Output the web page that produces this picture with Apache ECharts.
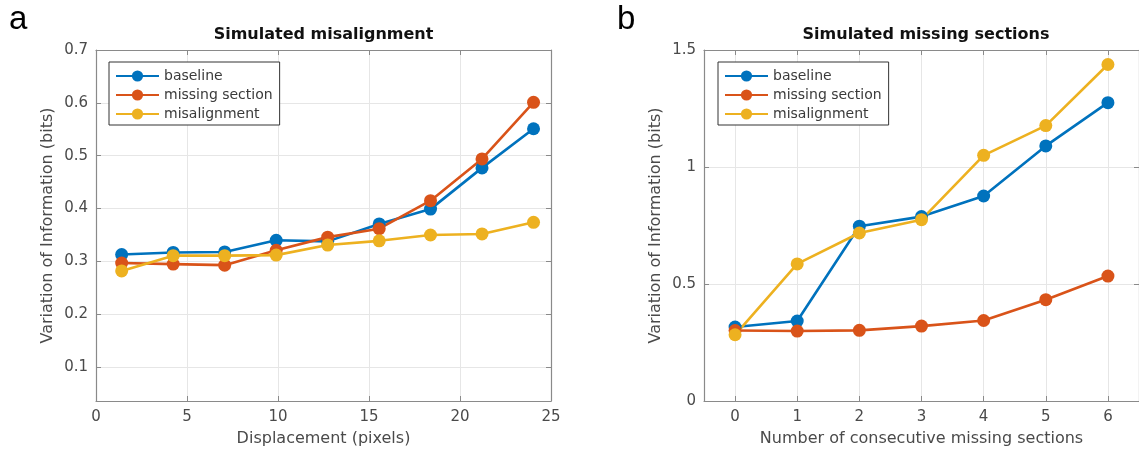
<!DOCTYPE html>
<html>
<head>
<meta charset="utf-8">
<script src="https://cdn.jsdelivr.net/npm/echarts@6/dist/echarts.min.js"></script>
<style>
html,body{margin:0;padding:0;background:#fff;}
#chart{width:1139px;height:452px;}
</style>
</head>
<body>
<div id="chart"></div>
<script>
// ---- data ----
const seriesNames = ['baseline', 'missing section', 'misalignment'];
const seriesColors = ['#0072BD', '#D95319', '#EDB120'];

// panel a: Simulated misalignment
const dispX = [1.41, 4.24, 7.07, 9.90, 12.73, 15.56, 18.38, 21.21, 24.04];
const aBaseline = [0.313, 0.317, 0.318, 0.340, 0.338, 0.371, 0.399, 0.477, 0.551];
const aMissing = [0.297, 0.295, 0.293, 0.321, 0.346, 0.362, 0.415, 0.494, 0.601];
const aMisalign = [0.282, 0.311, 0.311, 0.312, 0.331, 0.339, 0.350, 0.352, 0.374];
const aXTicks = [0, 5, 10, 15, 20, 25];
const aYTicks = [0.1, 0.2, 0.3, 0.4, 0.5, 0.6, 0.7];

// panel b: Simulated missing sections
const secX = [0, 1, 2, 3, 4, 5, 6];
const bBaseline = [0.316, 0.342, 0.747, 0.788, 0.876, 1.090, 1.275];
const bMissing = [0.301, 0.299, 0.302, 0.320, 0.344, 0.433, 0.534];
const bMisalign = [0.283, 0.586, 0.718, 0.775, 1.050, 1.177, 1.438];
const bXTicks = [0, 1, 2, 3, 4, 5, 6];
const bYTicks = [0, 0.5, 1, 1.5];

// ---- styling ----
const FONT = 'DejaVu Sans';
const frameColor = '#8a8a8a';
const gridColor = '#e6e6e6';
const labelColor = '#4a4a4a';

function zip(xs, ys) { return xs.map((x, i) => [x, ys[i]]); }

function axisBase(gridIndex, min, max, ticks, position) {
  return {
    type: 'value', gridIndex, min, max, position,
    axisLine: { show: true, onZero: false, lineStyle: { color: frameColor, width: 1.2 } },
    axisTick: { show: true, inside: true, length: 5, customValues: ticks, lineStyle: { color: frameColor } },
    axisLabel: { show: false, customValues: ticks },
    splitLine: { show: false }
  };
}
function mainX(gridIndex, min, max, ticks, name) {
  const a = axisBase(gridIndex, min, max, ticks, 'bottom');
  Object.assign(a, {
    name, nameLocation: 'middle', nameGap: 30,
    nameTextStyle: { fontFamily: FONT, fontSize: 16, color: labelColor },
    axisLabel: { show: true, customValues: ticks, margin: 9, fontFamily: FONT, fontSize: 15, color: labelColor },
    splitLine: { show: true, lineStyle: { color: gridColor, width: 1 } }
  });
  return a;
}
function mainY(gridIndex, min, max, ticks, name) {
  const a = axisBase(gridIndex, min, max, ticks, 'left');
  Object.assign(a, {
    name, nameLocation: 'middle', nameGap: 40,
    nameTextStyle: { fontFamily: FONT, fontSize: 16, color: labelColor },
    axisLabel: { show: true, customValues: ticks, margin: 8, fontFamily: FONT, fontSize: 15, color: labelColor },
    splitLine: { show: true, lineStyle: { color: gridColor, width: 1 } }
  });
  return a;
}
function lineSeries(name, color, xi, yi, data) {
  return {
    type: 'line', name, xAxisIndex: xi, yAxisIndex: yi, data,
    symbol: 'circle', symbolSize: 13, showSymbol: true,
    lineStyle: { color, width: 2.6 },
    itemStyle: { color },
    emphasis: { disabled: true },
    animation: false
  };
}
function legendAt(left) {
  return {
    orient: 'vertical', left, top: 62,
    data: seriesNames,
    itemWidth: 43, itemHeight: 14, itemGap: 5,
    padding: [7, 7, 4, 6],
    borderColor: '#333', borderWidth: 1, backgroundColor: '#fff',
    textStyle: { fontFamily: FONT, fontSize: 14, color: '#3a3a3a', lineHeight: 14 },
    selectedMode: false
  };
}

const aData = [aBaseline, aMissing, aMisalign];
const bData = [bBaseline, bMissing, bMisalign];

const option = {
  backgroundColor: '#fff',
  animation: false,
  title: [
    { text: 'Simulated misalignment', left: 323.5, top: 27, textAlign: 'center', padding: 0,
      textStyle: { fontFamily: FONT, fontSize: 16, fontWeight: 'bold', color: '#111' } },
    { text: 'Simulated missing sections', left: 926, top: 27, textAlign: 'center', padding: 0,
      textStyle: { fontFamily: FONT, fontSize: 16, fontWeight: 'bold', color: '#111' } },
    { text: 'a', left: 9, top: 3, padding: 0,
      textStyle: { fontFamily: 'Liberation Sans', fontSize: 33, fontWeight: 'normal', color: '#000' } },
    { text: 'b', left: 617, top: 3, padding: 0,
      textStyle: { fontFamily: 'Liberation Sans', fontSize: 33, fontWeight: 'normal', color: '#000' } }
  ],
  legend: [legendAt(109), legendAt(718)],
  grid: [
    { left: 96, top: 50, width: 455, height: 353, containLabel: false },
    { left: 704, top: 50, width: 444, height: 354, containLabel: false }
  ],
  xAxis: [
    mainX(0, 0, 25, aXTicks, 'Displacement (pixels)'),
    axisBase(0, 0, 25, aXTicks, 'top'),
    mainX(1, -0.5, 6.5, bXTicks, 'Number of consecutive missing sections'),
    axisBase(1, -0.5, 6.5, bXTicks, 'top')
  ],
  yAxis: [
    mainY(0, 0.036, 0.7, aYTicks, 'Variation of Information (bits)'),
    axisBase(0, 0.036, 0.7, aYTicks, 'right'),
    mainY(1, 0, 1.5, bYTicks, 'Variation of Information (bits)'),
    axisBase(1, 0, 1.5, bYTicks, 'right')
  ],
  series: [
    ...seriesNames.map((n, i) => lineSeries(n, seriesColors[i], 0, 0, zip(dispX, aData[i]))),
    ...seriesNames.map((n, i) => lineSeries(n, seriesColors[i], 2, 2, zip(secX, bData[i])))
  ]
};

const chart = echarts.init(document.getElementById('chart'), null, { renderer: 'canvas' });
chart.setOption(option);
</script>
</body>
</html>
